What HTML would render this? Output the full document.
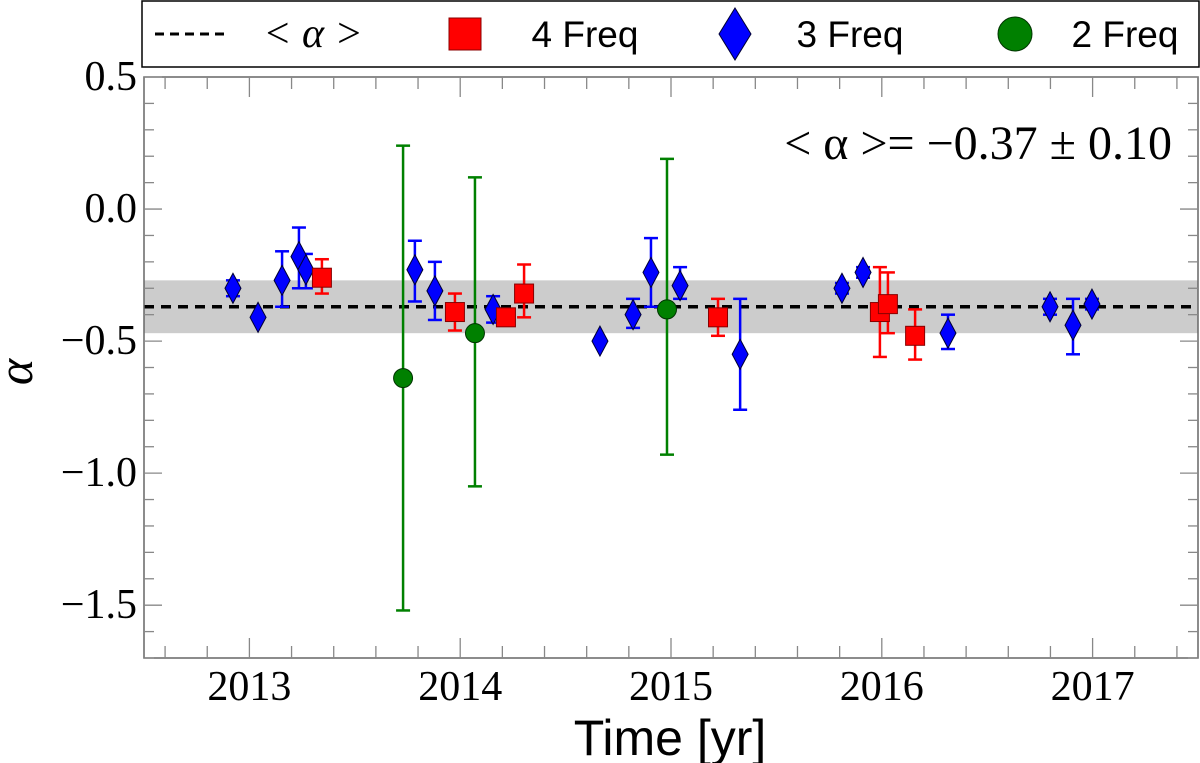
<!DOCTYPE html>
<html><head><meta charset="utf-8"><style>
body{margin:0;background:#fff;width:1200px;height:763px;overflow:hidden}
svg{display:block}
.tk{font-family:"Liberation Serif",serif;font-size:42px;fill:#000}
</style></head><body>
<svg id="chart" width="1200" height="763" xmlns="http://www.w3.org/2000/svg">
<g id="legend">
<rect x="142" y="1" width="1057" height="66" fill="#fff" stroke="#000" stroke-width="1.5"/>
<g><line x1="155" y1="34" x2="225" y2="34" stroke="#000" stroke-width="3" stroke-dasharray="9,6"/><text x="313" y="47" text-anchor="middle" font-family="Liberation Serif,serif" font-style="italic" font-size="42">&lt; α &gt;</text></g>
<g><rect x="449" y="18" width="32" height="32" fill="red" stroke="#800" stroke-width="1"/><text x="585" y="47" text-anchor="middle" font-family="Liberation Sans,sans-serif" font-size="37">4 Freq</text></g>
<g><polygon points="735,8 751,34 735,60 719,34" fill="blue" stroke="#003" stroke-width="1"/><text x="850" y="47" text-anchor="middle" font-family="Liberation Sans,sans-serif" font-size="37">3 Freq</text></g>
<g><circle cx="1015" cy="34" r="17" fill="green" stroke="#030" stroke-width="1"/><text x="1125" y="47" text-anchor="middle" font-family="Liberation Sans,sans-serif" font-size="37">2 Freq</text></g>
</g>
<g id="plot"></g>
</svg>
<script>
const xTicks=[2013,2014,2015,2016,2017];
const yTicks=[0.5,0.0,-0.5,-1.0,-1.5];
const yTickLabels=["0.5","0.0","\u22120.5","\u22121.0","\u22121.5"];
const meanAlpha=-0.37, meanErr=0.10;
const f3t=[2012.922,2013.041,2013.155,2013.235,2013.268,2013.785,2013.880,2014.156,2014.663,2014.820,2014.905,2015.043,2015.328,2015.811,2015.911,2016.314,2016.798,2016.907,2016.997];
const f3v=[-0.30,-0.41,-0.27,-0.18,-0.23,-0.23,-0.31,-0.38,-0.50,-0.40,-0.24,-0.29,-0.55,-0.30,-0.24,-0.47,-0.37,-0.44,-0.36];
const f3lo=[-0.33,-0.41,-0.37,-0.30,-0.30,-0.35,-0.42,-0.43,-0.50,-0.45,-0.37,-0.34,-0.76,-0.32,-0.26,-0.53,-0.40,-0.55,-0.38];
const f3hi=[-0.27,-0.41,-0.16,-0.07,-0.17,-0.12,-0.20,-0.33,-0.50,-0.34,-0.11,-0.22,-0.34,-0.28,-0.22,-0.40,-0.34,-0.34,-0.34];
const f4t=[2013.344,2013.975,2014.217,2014.303,2015.223,2015.991,2016.029,2016.158];
const f4v=[-0.26,-0.39,-0.41,-0.32,-0.41,-0.39,-0.36,-0.48];
const f4lo=[-0.32,-0.46,-0.42,-0.41,-0.48,-0.56,-0.47,-0.57];
const f4hi=[-0.19,-0.32,-0.40,-0.21,-0.34,-0.22,-0.24,-0.38];
const f2t=[2013.729,2014.070,2014.981];
const f2v=[-0.64,-0.47,-0.38];
const f2lo=[-1.52,-1.05,-0.93];
const f2hi=[0.24,0.12,0.19];

const NS="http://www.w3.org/2000/svg";
const L=144,R=1198,T=77,B=658,X0=2012.5,X1=2017.5,Y0=-1.7,Y1=0.5;
const sx=v=>L+(v-X0)/(X1-X0)*(R-L);
const sy=v=>T+(Y1-v)/(Y1-Y0)*(B-T);
const g=document.getElementById('plot');
function mk(tag,at,parent){const e=document.createElementNS(NS,tag);for(const k in at)e.setAttribute(k,at[k]);(parent||g).appendChild(e);return e;}

let band=mk('rect',{x:L,y:sy(meanAlpha+meanErr),width:R-L,height:sy(meanAlpha-meanErr)-sy(meanAlpha+meanErr),fill:'#cccccc'});


let ml=mk('line',{x1:L,x2:R,y1:sy(meanAlpha),y2:sy(meanAlpha),stroke:'#000','stroke-width':3.5,'stroke-dasharray':'10,7'});



const ax=mk('g',{});


mk('rect',{x:L,y:T,width:R-L,height:B-T,fill:'none',stroke:'#666','stroke-width':1.5},ax);
for(let y=Y0;y<=Y1+1e-6;y+=0.1){const yy=sy(y);const maj=Math.abs(Math.round(y*2)/2-y)<1e-6;const len=maj?18:10;
 mk('line',{x1:L,x2:L+len,y1:yy,y2:yy,stroke:'#888','stroke-width':1.3},ax);mk('line',{x1:R-len,x2:R,y1:yy,y2:yy,stroke:'#888','stroke-width':1.3},ax);}
for(let x=2012.6;x<X1-0.01;x+=0.2){const xx=sx(x);const maj=Math.abs(Math.round(x)-x)<1e-6;const len=maj?20:12;
 mk('line',{x1:xx,x2:xx,y1:B,y2:B-len,stroke:'#888','stroke-width':1.3},ax);mk('line',{x1:xx,x2:xx,y1:T,y2:T+len,stroke:'#888','stroke-width':1.3},ax);}
xTicks.forEach(v=>{const t=mk('text',{x:sx(v),y:700,'text-anchor':'middle',class:'tk'},ax);t.textContent=v;
 
 });
yTicks.forEach((v,i)=>{const t=mk('text',{x:137,y:sy(v)+13,'text-anchor':'end',class:'tk'},ax);t.textContent=yTickLabels[i];
 
 });
let xt=mk('text',{x:670,y:755,'text-anchor':'middle','font-family':'Liberation Sans,sans-serif','font-size':50});xt.textContent='Time [yr]';


let yt=mk('text',{x:32,y:372,'text-anchor':'middle','font-family':'Liberation Serif,serif','font-style':'italic','font-size':50,transform:'rotate(-90 32 372)'});yt.textContent='α';


let an=mk('text',{x:1172,y:159,'text-anchor':'end','font-family':'Liberation Serif,serif','font-size':48});an.textContent='< α >= \u22120.37 \u00b1 0.10';



function errbar(x,lo,hi,col){const xx=sx(x);
 mk('line',{x1:xx,x2:xx,y1:sy(lo),y2:sy(hi),stroke:col,'stroke-width':2.5});
 mk('line',{x1:xx-7,x2:xx+7,y1:sy(lo),y2:sy(lo),stroke:col,'stroke-width':2.5});
 mk('line',{x1:xx-7,x2:xx+7,y1:sy(hi),y2:sy(hi),stroke:col,'stroke-width':2.5});}
f2t.forEach((t,i)=>{errbar(t,f2lo[i],f2hi[i],'green');});
f3t.forEach((t,i)=>{errbar(t,f3lo[i],f3hi[i],'blue');});
f4t.forEach((t,i)=>{errbar(t,f4lo[i],f4hi[i],'red');});
f3t.forEach((t,i)=>{const x=sx(t),y=sy(f3v[i]);
 const p=mk('polygon',{points:`${x},${y-15} ${x+8},${y} ${x},${y+15} ${x-8},${y}`,fill:'blue',stroke:'#003','stroke-width':1});
 
 });
f4t.forEach((t,i)=>{const x=sx(t),y=sy(f4v[i]);
 const p=mk('rect',{x:x-9.5,y:y-9.5,width:19,height:19,fill:'red',stroke:'#800','stroke-width':1});
 
 });
f2t.forEach((t,i)=>{const p=mk('circle',{cx:sx(t),cy:sy(f2v[i]),r:9.5,fill:'green',stroke:'#030','stroke-width':1});
 
 });
</script>
</body></html>
